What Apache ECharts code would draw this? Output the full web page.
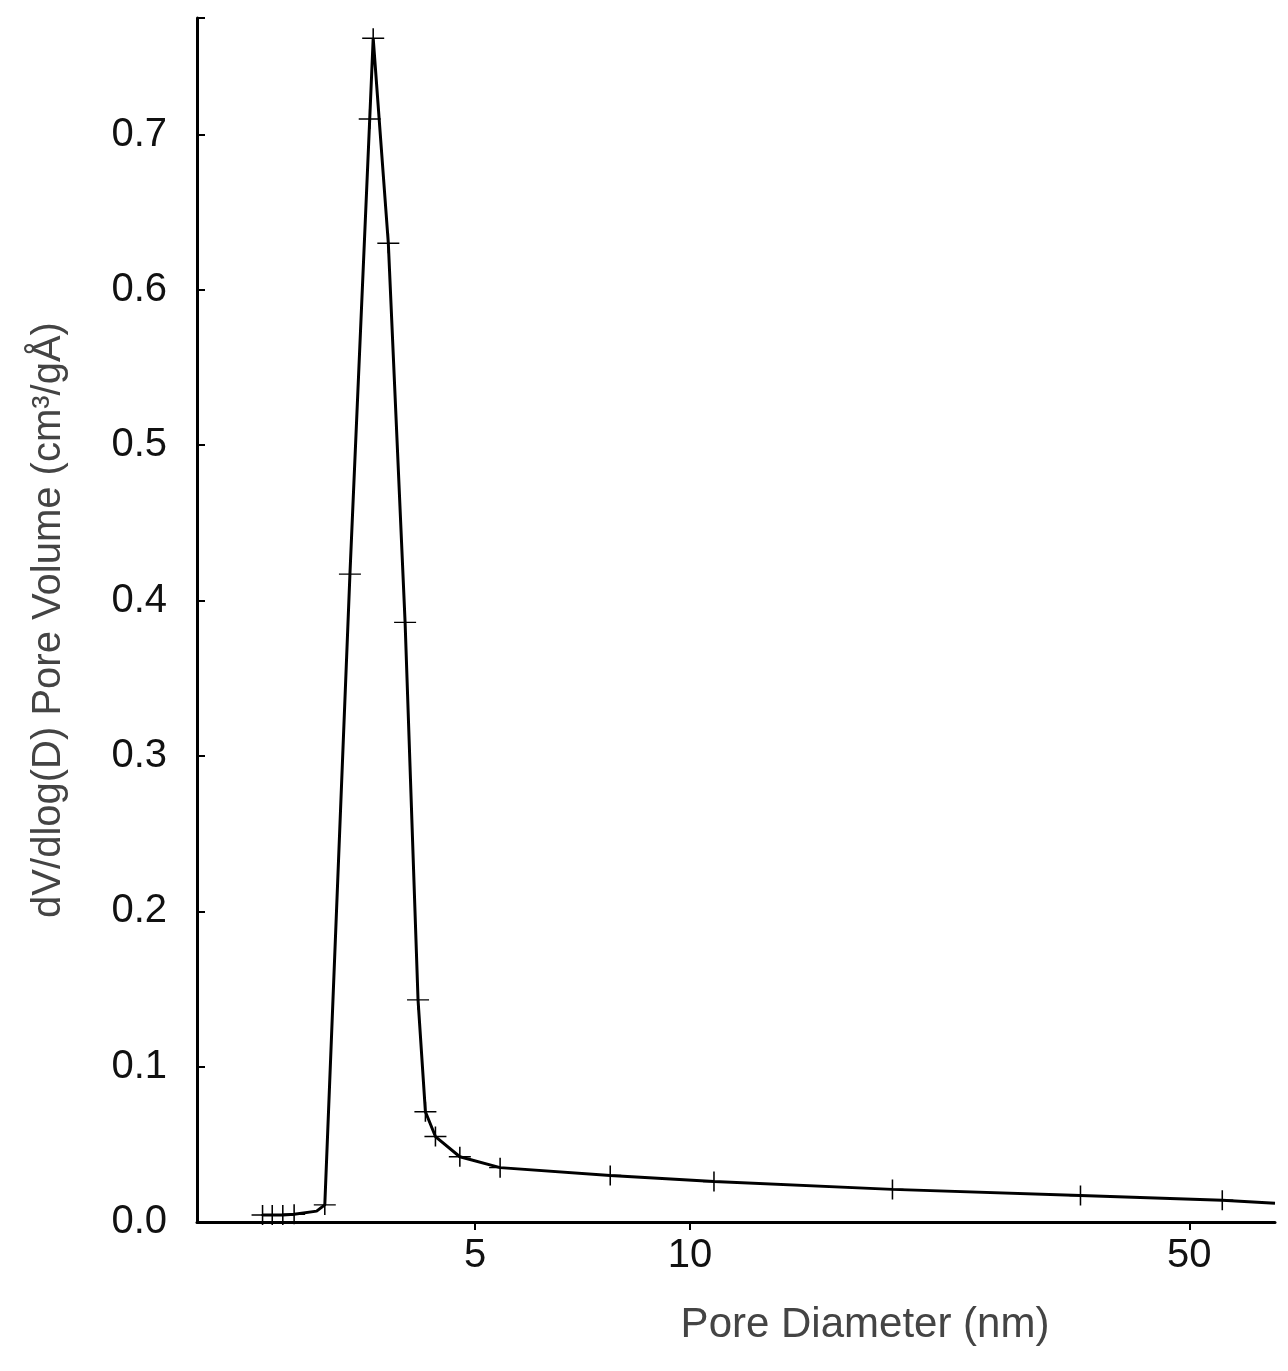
<!DOCTYPE html>
<html>
<head>
<meta charset="UTF-8">
<script src="https://cdn.jsdelivr.net/npm/echarts@6/dist/echarts.min.js"></script>
<style>html,body{margin:0;padding:0;background:#fff}#c{width:1288px;height:1371px}</style>
</head>
<body>
<div id="c"></div>
<script>
// pore diameter (nm) and dV/dlog(D)
var diameters = [2.52, 2.60, 2.69, 2.79, 3.0, 3.08, 3.34, 3.56, 3.60, 3.78, 3.99, 4.16, 4.26, 4.40, 4.76, 5.42, 7.73, 10.8, 19.2, 35.2, 55.6, 65.9];
var volumes   = [0.0045, 0.0045, 0.0045, 0.005, 0.007, 0.011, 0.417, 0.71, 0.762, 0.63, 0.386, 0.143, 0.071, 0.055, 0.042, 0.035, 0.030, 0.026, 0.021, 0.017, 0.014, 0.012];
var showMark  = [1,1,1,1,0,1,1,1,1,1,1,1,1,1,1,1,1,1,1,1,1,0];
var xTicks = [5, 10, 50];
var yTicks = [0, 0.1, 0.2, 0.3, 0.4, 0.5, 0.6, 0.7];

var plus = 'path://M-10,-0.7H10V0.7H-10Z M-0.7,-10H0.7V10H-0.7Z';
var data = diameters.map(function (d, i) {
    return {
        value: [Math.log10(d), volumes[i]],
        symbol: showMark[i] ? plus : 'none'
    };
});

var chart = echarts.init(document.getElementById('c'));
chart.setOption({
    animation: false,
    grid: { left: 197, right: 13, top: 18, bottom: 149 },
    xAxis: {
        type: 'value',
        min: Math.log10(2.04),
        max: Math.log10(65.9),
        name: 'Pore Diameter (nm)',
        nameLocation: 'middle',
        nameGap: 82,
        nameTextStyle: { fontFamily: 'Liberation Sans', fontSize: 42, color: '#444', padding: [0, 0, 0, 258] },
        axisLine: { lineStyle: { color: '#000', width: 3 } },
        axisTick: { show: true, customValues: xTicks.map(Math.log10), length: 8, lineStyle: { color: '#000', width: 2 } },
        axisLabel: {
            customValues: xTicks.map(Math.log10),
            formatter: function (v) { return String(Math.round(Math.pow(10, v))); },
            fontFamily: 'Liberation Sans', fontSize: 40, color: '#111', margin: 14
        },
        splitLine: { show: false }
    },
    yAxis: {
        type: 'value',
        min: 0,
        max: 0.775,
        interval: 0.1,
        name: 'dV/dlog(D) Pore Volume (cm\u00b3/gÅ)',
        nameLocation: 'middle',
        nameGap: 128,
        nameTextStyle: { fontFamily: 'Liberation Sans', fontSize: 40, color: '#444' },
        axisLine: { show: true, lineStyle: { color: '#000', width: 3 } },
        axisTick: { show: true, inside: true, length: 8, lineStyle: { color: '#000', width: 2 } },
        axisLabel: {
            customValues: yTicks,
            formatter: function (v) { return v.toFixed(1); },
            fontFamily: 'Liberation Sans', fontSize: 40, color: '#111', margin: 30
        },
        splitLine: { show: false }
    },
    series: [{
        type: 'line',
        data: data,
        symbolSize: [22, 20],
        itemStyle: { color: '#000' },
        lineStyle: { color: '#000', width: 3 }
    }]
});
</script>
</body>
</html>
